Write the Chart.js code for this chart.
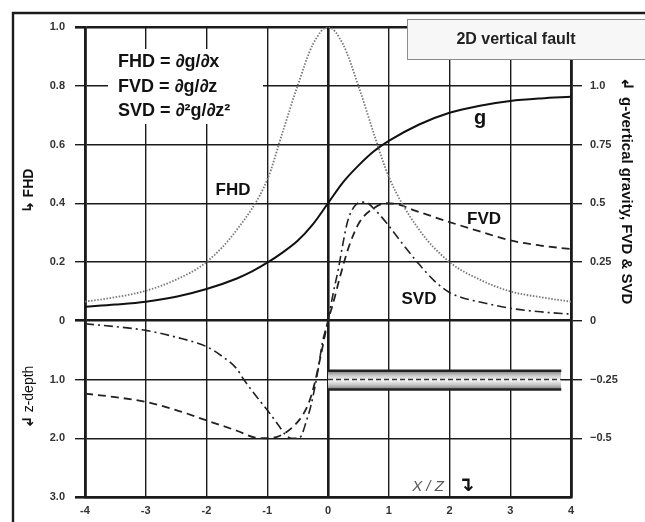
<!DOCTYPE html>
<html><head><meta charset="utf-8">
<script src="https://cdn.jsdelivr.net/npm/chart.js@4/dist/chart.umd.min.js"></script>
<style>html,body{margin:0;padding:0;background:#fff}#wrap{width:645px;height:522px;position:relative}</style>
</head><body><div id="wrap"><canvas id="c" width="645" height="522"></canvas></div>
<script>
// ---- data ----
const xTickValues = [-4,-3,-2,-1,0,1,2,3,4];
const xTickLabels = ['-4','-3','-2','-1','0','1','2','3','4'];
const leftTickValues = [1.0,0.8,0.6,0.4,0.2,0,-0.2,-0.4,-0.6];
const leftTickLabels = ['1.0','0.8','0.6','0.4','0.2','0','1.0','2.0','3.0'];
const rightTickValues = [1.0,0.75,0.5,0.25,0,-0.25,-0.5];
const rightTickLabels = ['1.0','0.75','0.5','0.25','0','\u22120.25','\u22120.5'];

const fhdX = [-4,-3.5,-3,-2.5,-2,-1.5,-1,-0.75,-0.5,-0.25,0,0.25,0.5,0.75,1,1.5,2,2.5,3,3.5,4];
const fhdY = [0.065,0.08,0.102,0.14,0.2,0.31,0.48,0.64,0.8,0.94,1.0,0.94,0.8,0.64,0.49,0.31,0.2,0.14,0.1,0.08,0.065];

const gX = [-4,-3.5,-3,-2.5,-2,-1.5,-1.25,-1,-0.75,-0.5,-0.25,0,0.25,0.5,0.75,1,1.5,2,2.5,3,3.5,4];
const gY = [0.06,0.069,0.081,0.102,0.135,0.18,0.21,0.247,0.29,0.34,0.41,0.5,0.59,0.66,0.72,0.765,0.835,0.885,0.915,0.935,0.946,0.953];

const fvdX = [-4,-3.5,-3,-2.5,-2,-1.5,-1.2,-1,-0.85,-0.72,-0.56,-0.42,-0.31,-0.23,-0.12,0,0.08,0.19,0.35,0.52,0.76,0.95,1.15,1.42,2,2.5,3,3.5,4];
const fvdY = [-0.31,-0.325,-0.345,-0.38,-0.424,-0.468,-0.497,-0.5,-0.495,-0.48,-0.447,-0.403,-0.345,-0.277,-0.15,0,0.07,0.18,0.32,0.42,0.48,0.5,0.495,0.47,0.42,0.38,0.342,0.32,0.305];

const svdX = [-4,-3.5,-3,-2.5,-2,-1.75,-1.5,-1.4,-1.2,-1,-0.8,-0.7,-0.6,-0.5,-0.44,-0.36,-0.28,-0.17,-0.09,0,0.08,0.17,0.24,0.32,0.43,0.6,0.8,1.0,1.25,1.5,1.75,2,2.25,2.5,3,3.5,4];
const svdY = [-0.013,-0.025,-0.041,-0.07,-0.11,-0.15,-0.205,-0.245,-0.315,-0.38,-0.45,-0.485,-0.5,-0.5,-0.49,-0.43,-0.36,-0.218,-0.09,0,0.11,0.22,0.32,0.42,0.485,0.505,0.465,0.404,0.32,0.24,0.17,0.12,0.095,0.08,0.053,0.038,0.028];

// fault body (depth units)
const faultX = [0, 3.84];
const faultTopDepth = [0.85, 0.85];
const faultBottomDepth = [1.17, 1.17];
const faultMidDepth = [1.0, 1.0];

// ---- helpers ----
const pts = (xs, ys) => xs.map((x, i) => ({x, y: ys[i]}));
const lbl = (vals, labels) => (v) => {
  const i = vals.findIndex(t => Math.abs(t - v) < 1e-6);
  return i >= 0 ? labels[i] : '';
};
const INK = '#1b1b1b';
const thick = 2.6, thin = 1.4;
const FONT = '"Liberation Sans", Arial, Helvetica, sans-serif';

const bandFill = (ctx) => {
  const ch = ctx.chart;
  const sc = ch.scales && ch.scales.depth;
  if (!sc || !ch.chartArea) return 'rgba(200,200,200,0.8)';
  const t = sc.getPixelForValue(faultTopDepth[0]);
  const b = sc.getPixelForValue(faultBottomDepth[0]);
  if (!isFinite(t) || !isFinite(b) || t === b) return 'rgba(200,200,200,0.8)';
  const g = ch.ctx.createLinearGradient(0, t, 0, b);
  g.addColorStop(0, '#7a7a7a');
  g.addColorStop(0.25, '#c8c8c8');
  g.addColorStop(0.5, '#f8f8f8');
  g.addColorStop(0.75, '#c8c8c8');
  g.addColorStop(1, '#7a7a7a');
  return g;
};

const decor = {
  id: 'decor',
  beforeDatasetsDraw(chart) {
    const c = chart.ctx;
    c.save();
    c.fillStyle = '#fff';
    c.fillRect(108, 49, 155, 75);
    c.restore();
  },
  afterDraw(chart) {
    const c = chart.ctx;
    c.save();
    // outer frame
    c.strokeStyle = INK; c.lineWidth = 2.4;
    c.beginPath(); c.moveTo(13, 530); c.lineTo(13, 13); c.lineTo(650, 13); c.stroke();
    // title box
    c.fillStyle = '#f7f7f7'; c.fillRect(407, 19, 240, 40);
    c.strokeStyle = '#8c8c8c'; c.lineWidth = 1;
    c.strokeRect(407.5, 19.5, 240, 40);
    c.fillStyle = '#222'; c.font = 'bold 16px ' + FONT;
    c.textAlign = 'center'; c.textBaseline = 'middle';
    c.fillText('2D vertical fault', 516, 40);
    // formulas
    c.textAlign = 'left'; c.textBaseline = 'alphabetic';
    c.font = 'bold 18px ' + FONT; c.fillStyle = '#111';
    c.fillText('FHD = \u2202g/\u2202x', 118, 67);
    c.fillText('FVD = \u2202g/\u2202z', 118, 92);
    c.fillText('SVD = \u2202\u00B2g/\u2202z\u00B2', 118, 116);
    // curve labels
    c.textAlign = 'center'; c.textBaseline = 'middle';
    c.font = 'bold 17px ' + FONT;
    c.fillText('FHD', 233, 190);
    c.fillText('FVD', 484, 219);
    c.fillText('SVD', 419, 299);
    c.font = 'bold 20px ' + FONT;
    c.fillText('g', 480, 118);
    // left titles
    c.save(); c.translate(29, 0); c.rotate(-Math.PI/2);
    c.font = 'bold 14px ' + FONT; c.textAlign = 'center';
    c.fillText('FHD', -183, 0);
    c.font = 'bold 15px "DejaVu Sans", sans-serif';
    c.fillText('\u21B3', -207, 0);
    c.font = '14px ' + FONT;
    c.fillText('z-depth', -389, 0);
    c.font = 'bold 15px "DejaVu Sans", sans-serif';
    c.fillText('\u21B2', -422, 0);
    c.restore();
    // right title
    c.save(); c.translate(626, 0); c.rotate(Math.PI/2);
    c.font = 'bold 15px ' + FONT; c.textAlign = 'left'; c.textBaseline = 'middle';
    c.fillText('g-vertical gravity, FVD & SVD', 97, 0);
    c.font = 'bold 16px "DejaVu Sans", sans-serif'; c.textAlign = 'center';
    c.fillText('\u21B2', 84, 0);
    c.restore();
    // x axis title
    c.font = 'italic 15px ' + FONT; c.fillStyle = '#555';
    c.textAlign = 'center'; c.textBaseline = 'middle';
    c.fillText('X / Z', 428, 487);
    c.font = 'bold 20px "DejaVu Sans", sans-serif'; c.fillStyle = '#111';
    c.fillText('\u21B4', 466, 486);
    c.restore();
  }
};

const common = {pointRadius: 0, fill: false, cubicInterpolationMode: 'monotone'};

new Chart(document.getElementById('c'), {
  type: 'scatter',
  data: {
    datasets: [
      {label: 'faultMid', data: pts(faultX, faultMidDepth), yAxisID: 'depth', showLine: true, borderColor: '#333', borderWidth: 1.4, borderDash: [5, 3], pointRadius: 0, fill: false, tension: 0},
      {label: 'faultTop', data: pts(faultX, faultTopDepth), yAxisID: 'depth', showLine: true, borderColor: '#222', borderWidth: 2.6, pointRadius: 0, fill: false, tension: 0},
      {label: 'faultBottom', data: pts(faultX, faultBottomDepth), yAxisID: 'depth', showLine: true, borderColor: '#222', borderWidth: 2.6, pointRadius: 0, fill: '-1', backgroundColor: bandFill, tension: 0},
      {label: 'FHD', data: pts(fhdX, fhdY), yAxisID: 'y', showLine: true, borderColor: '#777', borderWidth: 1.8, borderDash: [1.5, 1.6], ...common},
      {label: 'g', data: pts(gX, gY), yAxisID: 'y2', showLine: true, borderColor: '#111', borderWidth: 2, ...common},
      {label: 'FVD', data: pts(fvdX, fvdY), yAxisID: 'y2', showLine: true, borderColor: '#222', borderWidth: 1.8, borderDash: [8, 5], ...common},
      {label: 'SVD', data: pts(svdX, svdY), yAxisID: 'y2', showLine: true, borderColor: '#222', borderWidth: 1.6, borderDash: [9, 4, 2, 4], ...common}
    ]
  },
  options: {
    responsive: false,
    animation: false,
    events: [],
    layout: {padding: {top: 27, left: 0, right: 0, bottom: 0}},
    plugins: {legend: {display: false}, tooltip: {enabled: false}},
    scales: {
      x: {
        type: 'linear', min: -4, max: 4, position: 'bottom',
        afterBuildTicks: (s) => { s.ticks = xTickValues.map(v => ({value: v})); },
        afterFit: (s) => { s.height = 25; },
        ticks: {callback: lbl(xTickValues, xTickLabels), padding: 7, color: '#333', font: {family: FONT, size: 11, weight: 'bold'}, maxRotation: 0, autoSkip: false},
        grid: {color: INK, lineWidth: (ctx) => (ctx.tick && (ctx.tick.value === 0 || Math.abs(ctx.tick.value) === 4)) ? thick : thin, drawTicks: false},
        border: {display: true, color: INK, width: thick}
      },
      y: {
        type: 'linear', min: -0.6, max: 1.0, position: 'left',
        afterBuildTicks: (s) => { s.ticks = leftTickValues.map(v => ({value: v})); },
        afterFit: (s) => { s.width = 85; },
        ticks: {callback: lbl(leftTickValues, leftTickLabels), padding: 10, color: '#333', font: {family: FONT, size: 11, weight: 'bold'}, autoSkip: false},
        grid: {color: INK, lineWidth: (ctx) => (ctx.tick && (Math.abs(ctx.tick.value) < 1e-6 || Math.abs(ctx.tick.value - 1) < 1e-6 || Math.abs(ctx.tick.value + 0.6) < 1e-6)) ? thick : thin, tickLength: 10},
        border: {display: true, color: INK, width: thick}
      },
      y2: {
        type: 'linear', min: -0.75, max: 1.25, position: 'right',
        afterBuildTicks: (s) => { s.ticks = rightTickValues.map(v => ({value: v})); },
        afterFit: (s) => { s.width = 74; },
        ticks: {callback: lbl(rightTickValues, rightTickLabels), padding: 8, color: '#333', font: {family: FONT, size: 11, weight: 'bold'}, autoSkip: false},
        grid: {color: INK, lineWidth: thin, drawOnChartArea: false, tickLength: 11},
        border: {display: true, color: INK, width: thick}
      },
      depth: {
        type: 'linear', min: -5, max: 3, reverse: true, display: false
      }
    }
  },
  plugins: [decor]
});
</script>
</body></html>
